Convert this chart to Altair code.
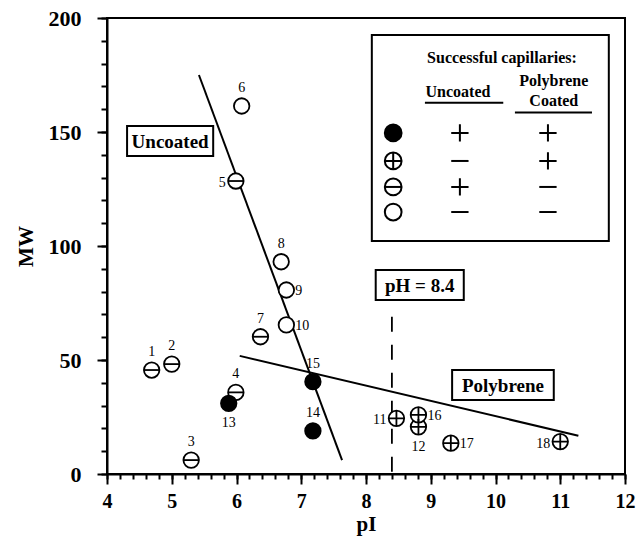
import altair as alt
import pandas as pd

# ---------------- data ----------------
labels = ["1", "2", "3", "4", "5", "6", "7", "8", "9", "10",
          "11", "12", "13", "14", "15", "16", "17", "18"]
pI = [4.69, 5.00, 5.30, 5.99, 5.99, 6.08, 6.37, 6.69, 6.77, 6.77,
      8.47, 8.81, 5.88, 7.18, 7.18, 8.81, 9.31, 11.00]
MW = [45.6, 48.2, 6.1, 35.8, 128.5, 161.4, 60.2, 93.1, 80.7, 65.4,
      24.4, 20.7, 31.0, 18.9, 40.5, 25.9, 13.5, 14.2]
kind = ["minus", "minus", "minus", "minus", "minus", "open", "minus", "open", "open", "open",
        "plus", "plus", "filled", "filled", "filled", "plus", "plus", "plus"]
label_pos = ["above", "above", "above", "above", "left", "above", "above", "above", "right", "right",
             "left", "below", "below", "above", "above", "right", "right", "left"]

line_names = ["Uncoated", "Uncoated", "Polybrene", "Polybrene"]
line_pI = [5.42, 7.63, 6.05, 11.28]
line_MW = [175.0, 6.1, 51.8, 16.8]

ph_value = 8.4
ph_top = 69

legend_kinds = ["filled", "plus", "minus", "open"]
legend_uncoated = ["plus", "minus", "plus", "minus"]
legend_coated = ["plus", "plus", "minus", "minus"]
legend_row_MW = [149.6, 137.3, 125.9, 114.9]

x_major = [4, 5, 6, 7, 8, 9, 10, 11, 12]
x_minor = [round(4 + 0.2 * i, 1) for i in range(41)]
y_major = [0, 50, 100, 150, 200]
y_minor = [10 * i for i in range(21)]

# ---------------- tables ----------------
pts = pd.DataFrame({"label": labels, "pI": pI, "MW": MW, "kind": kind, "pos": label_pos})
lines = pd.DataFrame({"name": line_names, "pI": line_pI, "MW": line_MW})

FONT = "Liberation Serif"
xs = alt.Scale(domain=[4, 12], nice=False, zero=False)
ys = alt.Scale(domain=[0, 200], nice=False)

common = dict(grid=False, domainColor="black", domainWidth=2, tickColor="black", tickWidth=2)

xaxis = alt.Axis(
    values=x_major, title="pI", orient="bottom", format="d", tickSize=10,
    labelFlush=False, labelOverlap=False, labelPadding=7,
    labelFont=FONT, labelFontSize=20, labelFontWeight="bold", labelColor="black",
    titleFont=FONT, titleFontSize=21, titleFontWeight="bold", titleColor="black", titlePadding=2,
    **common,
)
yaxis = alt.Axis(
    values=y_major, title="MW", orient="left", format="d", tickSize=10,
    labelFlush=False, labelOverlap=False, labelPadding=16,
    labelFont=FONT, labelFontSize=22, labelFontWeight="bold", labelColor="black",
    titleFont=FONT, titleFontSize=21, titleFontWeight="bold", titleColor="black", titlePadding=12,
    **common,
)
xaxis_minor = alt.Axis(values=x_minor, orient="bottom", tickSize=5, labels=False, domain=False,
                       title=None, grid=False, tickColor="black", tickWidth=2, offset=0)
yaxis_minor = alt.Axis(values=y_minor, orient="left", tickSize=6, labels=False, domain=False,
                       title=None, grid=False, tickColor="black", tickWidth=2, offset=0)

def X(f="pI"):
    return alt.X(f"{f}:Q", scale=xs, axis=None)

def Y(f="MW"):
    return alt.Y(f"{f}:Q", scale=ys, axis=None)

# fit lines (carry the main axes)
fit = alt.Chart(lines).mark_line(color="black", strokeWidth=2).encode(
    x=alt.X("pI:Q", scale=xs, axis=xaxis),
    y=alt.Y("MW:Q", scale=ys, axis=yaxis),
    detail="name:N",
)

# pH dashed line (carries the minor-tick axes)
ph_df = pd.DataFrame({"x": [ph_value], "y": [ph_top], "y0": [0]})
ph_rule = alt.Chart(ph_df).mark_rule(color="black", strokeWidth=1.8, strokeDash=[15, 13]).encode(
    x=alt.X("x:Q", scale=xs, axis=xaxis_minor),
    y=alt.Y("y:Q", scale=ys, axis=yaxis_minor),
    y2="y0:Q",
)

# annotation boxes
boxes = pd.DataFrame({
    "text": ["Uncoated", "pH = 8.4", "Polybrene"],
    "x1": [4.31, 8.15, 9.33], "x2": [5.64, 9.51, 10.90],
    "y1": [139.5, 76.3, 32.5], "y2": [152.6, 89.5, 45.6],
})
boxes["xc"] = (boxes["x1"] + boxes["x2"]) / 2
boxes["yc"] = (boxes["y1"] + boxes["y2"]) / 2
box_rect = alt.Chart(boxes).mark_rect(fill="white", stroke="black", strokeWidth=2).encode(
    x=X("x1"), x2="x2:Q", y=Y("y1"), y2="y2:Q"
)
box_text = alt.Chart(boxes).mark_text(font=FONT, fontSize=19, fontWeight="bold", color="black",
                                      baseline="middle", dy=1).encode(
    x=X("xc"), y=Y("yc"), text="text:N"
)

# data points
circles = alt.Chart(pts).mark_point(shape="circle", size=240, filled=True, stroke="black",
                                    strokeWidth=1.8, opacity=1).encode(
    x=X(), y=Y(),
    fill=alt.condition("datum.kind == 'filled'", alt.value("black"), alt.value("white")),
)
sym_scale = alt.Scale(domain=["minus", "plus"],
                      range=["M-1,0L1,0", "M-1,0L1,0M0,-1L0,1"])
inner = alt.Chart(pts).transform_filter("datum.kind == 'minus' || datum.kind == 'plus'").mark_point(
    filled=False, size=240, stroke="black", strokeWidth=1.8, opacity=1).encode(
    x=X(), y=Y(), shape=alt.Shape("kind:N", scale=sym_scale, legend=None)
)

def lab(pos, **kw):
    return alt.Chart(pts).transform_filter(f"datum.pos == '{pos}'").mark_text(
        font=FONT, fontSize=14, color="black", baseline="middle", **kw).encode(
        x=X(), y=Y(), text="label:N")

labs = [lab("above", dy=-18), lab("below", dy=20),
        lab("left", align="right", dx=-10, dy=2), lab("right", align="left", dx=9, dy=1)]

# legend
leg_box = pd.DataFrame({"x1": [8.09], "x2": [11.75], "y1": [102.2], "y2": [192.5]})
legend_rect = alt.Chart(leg_box).mark_rect(fill="white", stroke="black", strokeWidth=2).encode(
    x=X("x1"), x2="x2:Q", y=Y("y1"), y2="y2:Q"
)
leg_text = pd.DataFrame({
    "text": ["Successful capillaries:", "Uncoated", "Polybrene", "Coated"],
    "x": [10.10, 9.42, 10.90, 10.90],
    "y": [182.5, 167.5, 172.5, 163.5],
})
legend_text = alt.Chart(leg_text).mark_text(font=FONT, fontSize=16, fontWeight="bold", color="black",
                                            baseline="middle").encode(
    x=X("x"), y=Y("y"), text="text:N"
)
under = pd.DataFrame({"x1": [8.91, 10.30], "x2": [10.12, 11.49], "y": [162.8, 158.6]})
legend_under = alt.Chart(under).mark_rule(color="black", strokeWidth=2).encode(
    x=X("x1"), x2="x2:Q", y=Y("y")
)
leg = pd.DataFrame({"kind": legend_kinds, "unc": legend_uncoated, "coat": legend_coated,
                    "y": legend_row_MW})
leg["xs"] = 8.42
leg["x1"] = 9.45
leg["x2"] = 10.81
leg_circ = alt.Chart(leg).mark_point(shape="circle", size=280, filled=True, stroke="black",
                                     strokeWidth=2, opacity=1).encode(
    x=X("xs"), y=Y("y"),
    fill=alt.condition("datum.kind == 'filled'", alt.value("black"), alt.value("white")),
)
leg_inner = alt.Chart(leg).transform_filter("datum.kind == 'minus' || datum.kind == 'plus'").mark_point(
    filled=False, size=280, stroke="black", strokeWidth=2, opacity=1).encode(
    x=X("xs"), y=Y("y"), shape=alt.Shape("kind:N", scale=sym_scale, legend=None)
)
leg_c1 = alt.Chart(leg).mark_point(filled=False, size=300, stroke="black", strokeWidth=2, opacity=1).encode(
    x=X("x1"), y=Y("y"), shape=alt.Shape("unc:N", scale=sym_scale, legend=None)
)
leg_c2 = alt.Chart(leg).mark_point(filled=False, size=300, stroke="black", strokeWidth=2, opacity=1).encode(
    x=X("x2"), y=Y("y"), shape=alt.Shape("coat:N", scale=sym_scale, legend=None)
)

chart = alt.layer(
    fit, ph_rule, box_rect, box_text, circles, inner, *labs,
    legend_rect, legend_text, legend_under, leg_circ, leg_inner, leg_c1, leg_c2,
).resolve_axis(
    x="independent", y="independent"
).properties(
    width=518, height=456,
    autosize=alt.AutoSizeParams(type="none"),
    padding={"left": 107, "top": 18, "right": 14, "bottom": 69},
    background="white",
).configure_view(
    stroke="black", strokeWidth=2
)

chart.save("out.html", embed_options={"renderer": "svg", "actions": False})
